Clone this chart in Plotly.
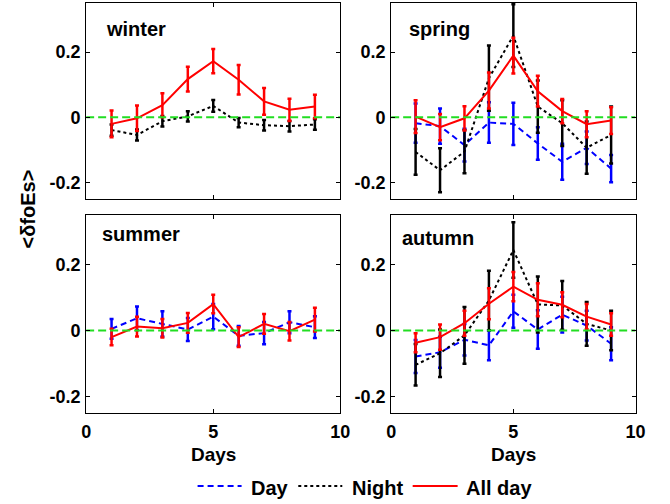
import plotly.graph_objects as go

days = [1, 2, 3, 4, 5, 6, 7, 8, 9]
x_ticks = [0, 5, 10]
y_ticks = [-0.2, 0, 0.2]
y_tick_text = ["-0.2", "0", "0.2"]
seasons = ["winter", "spring", "summer", "autumn"]

# winter
winter_night = [-0.039, -0.054, -0.012, 0.003, 0.035, -0.016, -0.024, -0.027, -0.022]
winter_night_err = [0.017, 0.017, 0.016, 0.016, 0.018, 0.014, 0.016, 0.016, 0.016]
winter_all = [-0.02, -0.003, 0.037, 0.117, 0.172, 0.115, 0.049, 0.023, 0.033]
winter_all_err = [0.041, 0.039, 0.037, 0.038, 0.037, 0.045, 0.041, 0.034, 0.036]

# spring
spring_day = [-0.018, -0.027, -0.085, -0.016, -0.02, -0.08, -0.136, -0.093, -0.157]
spring_day_err = [0.06, 0.054, 0.05, 0.062, 0.065, 0.05, 0.055, 0.05, 0.042]
spring_night = [-0.106, -0.162, -0.105, 0.12, 0.25, 0.033, -0.018, -0.093, -0.054]
spring_night_err = [0.07, 0.067, 0.066, 0.1, 0.096, 0.08, 0.07, 0.08, 0.087]
spring_all = [0.002, -0.03, -0.003, 0.082, 0.189, 0.08, 0.019, -0.021, -0.01]
spring_all_err = [0.05, 0.04, 0.037, 0.055, 0.055, 0.047, 0.037, 0.04, 0.041]

# summer
summer_day = [0.005, 0.037, 0.02, 0.003, 0.042, -0.016, -0.008, 0.025, 0.01]
summer_day_err = [0.03, 0.036, 0.038, 0.035, 0.038, 0.03, 0.034, 0.033, 0.033]
summer_all = [-0.02, 0.012, 0.007, 0.023, 0.08, -0.02, 0.02, -0.002, 0.033]
summer_all_err = [0.025, 0.03, 0.028, 0.03, 0.028, 0.03, 0.03, 0.028, 0.036]

# autumn
autumn_day = [-0.079, -0.066, -0.028, -0.045, 0.058, 0.003, 0.048, 0.015, -0.04]
autumn_day_err = [0.05, 0.047, 0.048, 0.045, 0.05, 0.058, 0.054, 0.045, 0.05]
autumn_night = [-0.104, -0.069, -0.015, 0.091, 0.244, 0.079, 0.076, 0.02, 0.0]
autumn_night_err = [0.063, 0.072, 0.086, 0.09, 0.084, 0.085, 0.074, 0.066, 0.06]
autumn_all = [-0.037, -0.02, 0.022, 0.081, 0.133, 0.093, 0.078, 0.042, 0.018]
autumn_all_err = [0.029, 0.038, 0.038, 0.047, 0.044, 0.05, 0.038, 0.038, 0.034]

panel_data = {
    "winter": [None, (winter_night, winter_night_err), (winter_all, winter_all_err)],
    "spring": [(spring_day, spring_day_err), (spring_night, spring_night_err), (spring_all, spring_all_err)],
    "summer": [(summer_day, summer_day_err), None, (summer_all, summer_all_err)],
    "autumn": [(autumn_day, autumn_day_err), (autumn_night, autumn_night_err), (autumn_all, autumn_all_err)],
}
series_names = ["Day", "Night", "All day"]
series_colors = ["#0000ff", "#000000", "#ff0000"]
series_dash = ["6px,4px", "dot", "solid"]

W, H = 670, 504
FONT = "Liberation Sans, Arial, sans-serif"

# pixel boxes of panels: (x0, x1, ytop, ybottom)
boxes = {
    "winter": (83, 343, 3, 199),
    "spring": (395, 645, 3, 199),
    "summer": (83, 343, 215, 413),
    "autumn": (395, 645, 215, 413),
}
title_pos = {"winter": (101, 29), "spring": (411, 29), "summer": (97, 234), "autumn": (404, 238)}

fig = go.Figure()
for i, s in enumerate(seasons):
    n = i + 1
    xa = "x" if n == 1 else f"x{n}"
    ya = "y" if n == 1 else f"y{n}"
    for k in range(3):
        item = panel_data[s][k]
        if item is None:
            continue
        vals, errs = item
        fig.add_trace(go.Scatter(
            x=days, y=vals, mode="lines", name=series_names[k],
            line=dict(color=series_colors[k], width=2, dash=series_dash[k]),
            error_y=dict(type="data", array=errs, visible=True,
                         color=series_colors[k], thickness=2.5, width=2),
            xaxis=xa, yaxis=ya, showlegend=False,
        ))
    fig.add_trace(go.Scatter(
        x=[0, 10], y=[0, 0], mode="lines", showlegend=False,
        line=dict(color="#22dd22", width=2, dash="8px,4px"),
        xaxis=xa, yaxis=ya, hoverinfo="skip",
    ))

layout = dict(
    width=W, height=H,
    margin=dict(l=0, r=0, t=0, b=0),
    paper_bgcolor="white", plot_bgcolor="white",
    font=dict(family=FONT, color="black", size=18, weight="bold"),
    showlegend=False,
)
annotations = []
shapes = []
for i, s in enumerate(seasons):
    n = i + 1
    x0, x1, yt, yb = boxes[s]
    xkey = "xaxis" if n == 1 else f"xaxis{n}"
    ykey = "yaxis" if n == 1 else f"yaxis{n}"
    bottom = s in ("summer", "autumn")
    layout[xkey] = dict(
        domain=[x0 / W, x1 / W], range=[0, 10], tickvals=x_ticks,
        ticktext=[str(v) for v in x_ticks],
        showticklabels=bottom, ticks="inside", ticklen=4, tickcolor="black",
        showline=True, mirror="ticks", linecolor="black", linewidth=1,
        showgrid=False, zeroline=False, anchor="y" if n == 1 else f"y{n}",
        tickfont=dict(size=18, family=FONT, weight="bold"), ticklabelstandoff=2,
    )
    layout[ykey] = dict(
        domain=[1 - yb / H, 1 - yt / H], range=[-0.25, 0.35], tickvals=y_ticks,
        ticktext=y_tick_text, ticks="inside", ticklen=4, tickcolor="black",
        showline=True, mirror="ticks", linecolor="black", linewidth=1,
        showgrid=False, zeroline=False, anchor="x" if n == 1 else f"x{n}",
        tickfont=dict(size=18, family=FONT, weight="bold"), ticklabelstandoff=1,
    )
    tx, ty = title_pos[s]
    annotations.append(dict(
        text=s, xref="paper", yref="paper",
        x=tx / W, y=1 - ty / H, xanchor="left", yanchor="middle",
        showarrow=False, font=dict(size=20, family=FONT, weight="bold"),
    ))
    if bottom:
        annotations.append(dict(
            text="Days", xref="paper", yref="paper",
            x=((x0 + x1) / 2) / W, y=1 - 454 / H, xanchor="center", yanchor="middle",
            showarrow=False, font=dict(size=19, family=FONT, weight="bold"),
        ))
annotations.append(dict(
    text="<δfoEs>", xref="paper", yref="paper", x=24 / W, y=1 - 209 / H,
    xanchor="center", yanchor="middle", textangle=-90, showarrow=False,
    font=dict(size=20, family=FONT, weight="bold"),
))

# legend drawn manually (line sample + label)
legend_lines = [(197, 242), (300, 345), (417, 463)]
legend_text_x = [250, 353, 470]
leg_y = 486
for k in range(3):
    lx0, lx1 = legend_lines[k]
    shapes.append(dict(
        type="line", xref="paper", yref="paper",
        x0=lx0 / W, x1=lx1 / W, y0=1 - leg_y / H, y1=1 - leg_y / H,
        line=dict(color=series_colors[k], width=2, dash=series_dash[k]),
    ))
    annotations.append(dict(
        text=series_names[k], xref="paper", yref="paper",
        x=legend_text_x[k] / W, y=1 - 488 / H, xanchor="left", yanchor="middle",
        showarrow=False, font=dict(size=20, family=FONT, weight="bold"),
    ))

layout["annotations"] = annotations
layout["shapes"] = shapes
fig.update_layout(**layout)
fig.write_html("out.html", config={"displayModeBar": False},
               post_script="document.body.style.margin='0px';")
